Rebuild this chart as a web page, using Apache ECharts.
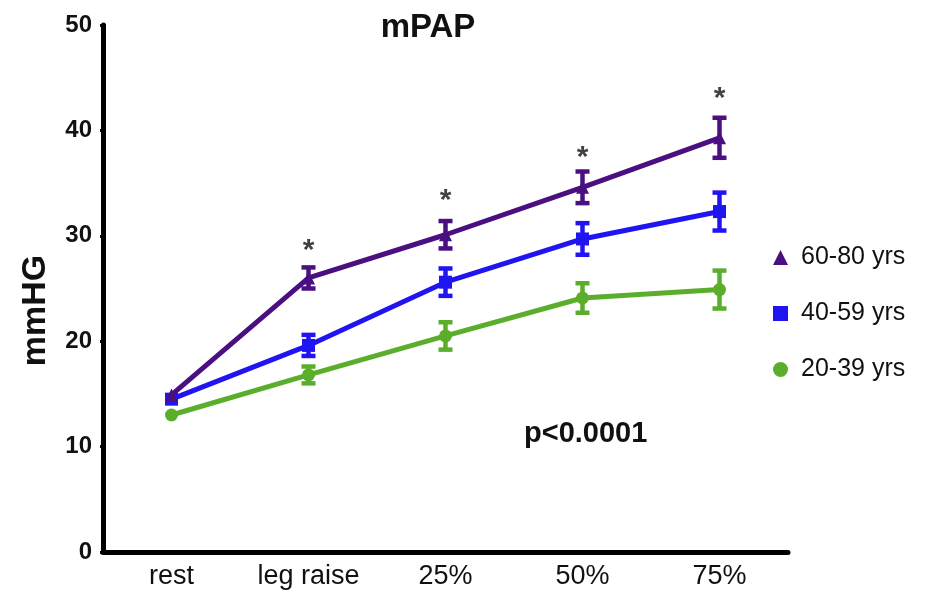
<!DOCTYPE html>
<html>
<head>
<meta charset="utf-8">
<script src="https://cdn.jsdelivr.net/npm/echarts@6/dist/echarts.min.js"></script>
<style>html,body{margin:0;padding:0;background:#fff}#c{width:927px;height:598px}</style>
</head>
<body>
<div id="c"></div>
<script>
var categories = ['rest', 'leg raise', '25%', '50%', '75%'];
var yTicks = [0, 10, 20, 30, 40, 50];
var seriesNames = ['60-80 yrs', '40-59 yrs', '20-39 yrs'];
var mean6080 = [14.9, 26.0, 30.1, 34.6, 39.3];
var err6080  = [0, 1.0, 1.3, 1.5, 1.9];
var mean4059 = [14.5, 19.6, 25.6, 29.7, 32.3];
var err4059  = [0, 1.0, 1.3, 1.5, 1.8];
var mean2039 = [13.0, 16.8, 20.5, 24.1, 24.9];
var err2039  = [0, 0.8, 1.3, 1.4, 1.8];
var starY    = [null, 28.6, 33.3, 37.4, 43.0];
var pText = 'p<0.0001';

var colors = ['#4A0F80', '#2014F0', '#5BAE2C'];
var symbols = ['triangle', 'rect', 'circle'];
var means = [mean6080, mean4059, mean2039];
var errs = [err6080, err4059, err2039];
var FONT = '"Liberation Sans", Arial, sans-serif';

var series = [];
means.forEach(function (m, i) {
  series.push({
    name: seriesNames[i], type: 'line', data: m,
    symbol: symbols[i], symbolSize: 13,
    lineStyle: { color: colors[i], width: 5 },
    itemStyle: { color: colors[i] },
    z: 3 - i
  });
  var ed = m.map(function (v, k) { return [k, v - errs[i][k], v + errs[i][k]]; })
            .filter(function (d, k) { return errs[i][k] > 0; });
  series.push({
    type: 'custom', silent: true, z: 4,
    data: ed,
    renderItem: function (params, api) {
      var x = api.coord([api.value(0), api.value(1)])[0];
      var yl = api.coord([api.value(0), api.value(1)])[1];
      var yh = api.coord([api.value(0), api.value(2)])[1];
      var c = colors[i], hw = 7;
      var st = { stroke: c, lineWidth: 4.5 };
      return { type: 'group', children: [
        { type: 'line', shape: { x1: x, y1: yh, x2: x, y2: yl }, style: st },
        { type: 'line', shape: { x1: x - hw, y1: yh, x2: x + hw, y2: yh }, style: st },
        { type: 'line', shape: { x1: x - hw, y1: yl, x2: x + hw, y2: yl }, style: st }
      ]};
    }
  });
});
series.push({
  type: 'scatter', silent: true, symbolSize: 0,
  data: starY.map(function (v, k) { return v == null ? null : [k, v]; }).filter(function (d) { return d; }),
  label: { show: true, position: 'inside', formatter: '*', color: '#111',
           fontSize: 30, fontWeight: 'bold', fontFamily: FONT }
});

var chart = echarts.init(document.getElementById('c'));
chart.setOption({
  animation: false,
  backgroundColor: '#fff',
  title: {
    text: 'mPAP', left: 423, top: 6, textAlign: 'center',
    textStyle: { fontSize: 33, fontWeight: 'bold', color: '#111', fontFamily: FONT }
  },
  grid: { left: 103, right: 139, top: 25, bottom: 46 },
  legend: {
    orient: 'vertical', left: 768, top: 240, itemGap: 31,
    itemWidth: 15, itemHeight: 15,
    data: seriesNames.map(function (n, i) { return { name: n, icon: symbols[i] }; }),
    textStyle: { fontSize: 25, color: '#111', fontFamily: FONT, padding: [0, 0, 0, 8] }
  },
  graphic: [{
    type: 'text', left: 524, top: 419,
    style: { text: pText, fontSize: 29, fontWeight: 'bold', fill: '#111', fontFamily: FONT }
  }],
  xAxis: {
    type: 'category', data: categories, boundaryGap: true,
    axisLine: { lineStyle: { color: '#000', width: 5 } },
    axisTick: { alignWithLabel: true, length: 4, lineStyle: { color: '#000', width: 3 } },
    axisLabel: { fontSize: 27, color: '#111', margin: 11, fontFamily: FONT }
  },
  yAxis: {
    type: 'value', min: 0, max: 50, interval: 10,
    name: 'mmHG', nameLocation: 'middle', nameGap: 50,
    nameTextStyle: { fontSize: 34, fontWeight: 'bold', color: '#111', fontFamily: FONT, padding: [0, 44, 0, 0] },
    axisLine: { show: true, lineStyle: { color: '#000', width: 5 } },
    axisTick: { show: true, length: 3, lineStyle: { color: '#000', width: 3 } },
    axisLabel: { fontSize: 24, fontWeight: 'bold', color: '#111', margin: 11, fontFamily: FONT,
                 formatter: function (v) { return yTicks.indexOf(v) >= 0 ? String(v) : ''; } },
    splitLine: { show: false }
  },
  series: series
});
</script>
</body>
</html>
